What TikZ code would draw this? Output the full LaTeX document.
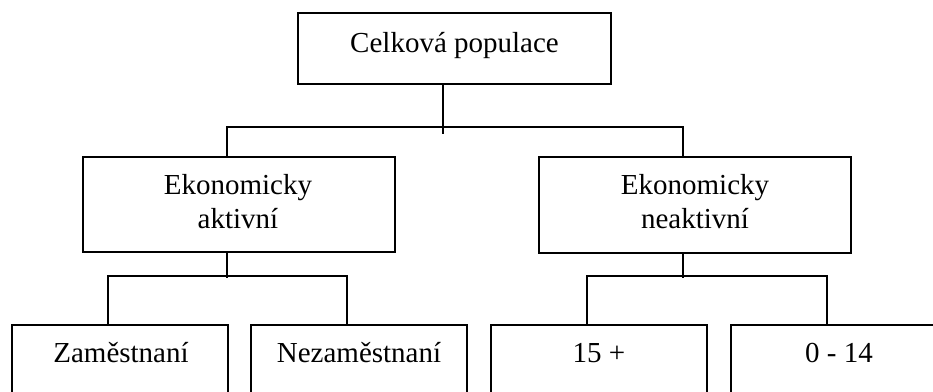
\documentclass[tikz,border=0pt]{standalone}
\usepackage{fontspec}
\setmainfont{Liberation Serif}
\begin{document}
\begin{tikzpicture}[x=1pt,y=-1pt,
  box/.style={draw=black,line width=2.2pt,rectangle,inner sep=0pt,minimum width=#1},
  lbl/.style={font=\fontsize{29}{33.4}\selectfont,inner sep=0pt,anchor=base,align=center},
  conn/.style={draw=black,line width=2.2pt}]
\clip (0,0) rectangle (933,391);
\fill[white] (0,0) rectangle (933,391);
% boxes
\node[box=313pt,minimum height=71pt] (top) at (454.5,48.5) {};
\node[box=312pt,minimum height=95pt] (ea) at (239,204.5) {};
\node[box=312pt,minimum height=96pt] (ena) at (695,205) {};
\node[box=216pt,minimum height=95pt] (z) at (120,372.5) {};
\node[box=216pt,minimum height=95pt] (n) at (359,372.5) {};
\node[box=216pt,minimum height=95pt] (p) at (599,372.5) {};
\node[box=216pt,minimum height=95pt] (d) at (839,372.5) {};
% texts
\node[lbl] (ttop) at (454.5,52) {Celková populace};
\node[lbl] (tea) at (238,228) {Ekonomicky\\aktivní};
\node[lbl] (tena) at (695,228) {Ekonomicky\\neaktivní};
\node[lbl] (tz) at (121,362) {Zaměstnaní};
\node[lbl] (tn) at (359,362) {Nezaměstnaní};
\node[lbl] (tp) at (599,362) {15 +};
\node[lbl] (td) at (839,362) {0 - 14};
% connectors
\draw[conn] ([xshift=-11.5pt]top.south) -- ++(0,49);
\draw[conn] ([xshift=-12pt]ea.north) -- ++(0,-29) -| ([xshift=-12pt]ena.north);
\draw[conn] ([xshift=-12pt]ea.south) -- ++(0,25);
\draw[conn] ([xshift=-12pt]ena.south) -- ++(0,24);
\draw[conn] ([xshift=-12pt]z.north) -- ++(0,-48) -| ([xshift=-12pt]n.north);
\draw[conn] ([xshift=-12pt]p.north) -- ++(0,-48) -| ([xshift=-12pt]d.north);
\end{tikzpicture}
\end{document}
